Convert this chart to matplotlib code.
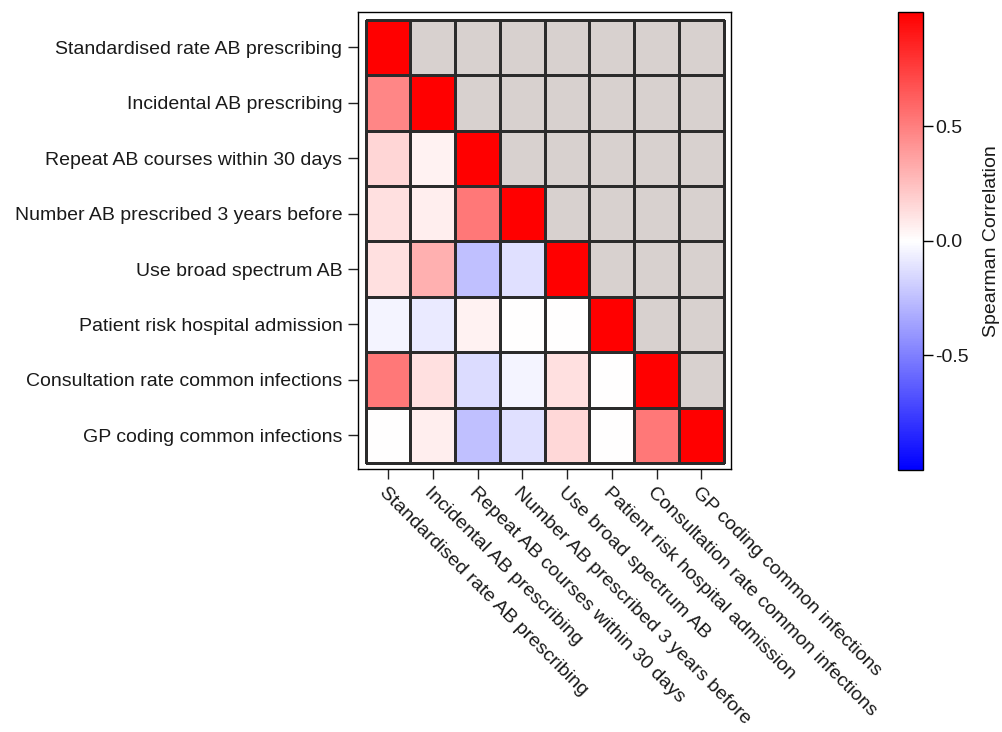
import numpy as np
import matplotlib
matplotlib.use('Agg')
import matplotlib.pyplot as plt
from matplotlib.colors import ListedColormap

plt.rcParams['font.family'] = ['Liberation Sans', 'DejaVu Sans']
plt.rcParams['axes.unicode_minus'] = False

# variable names (rows top to bottom, columns left to right)
labels = ['Standardised rate AB prescribing',
          'Incidental AB prescribing',
          'Repeat AB courses within 30 days',
          'Number AB prescribed 3 years before',
          'Use broad spectrum AB',
          'Patient risk hospital admission',
          'Consultation rate common infections',
          'GP coding common infections']

# lower triangle of the Spearman correlation matrix, row by row
row1 = [1.0]
row2 = [0.47, 1.0]
row3 = [0.16, 0.05, 1.0]
row4 = [0.12, 0.07, 0.53, 1.0]
row5 = [0.12, 0.31, -0.25, -0.12, 1.0]
row6 = [-0.04, -0.08, 0.05, 0.0, 0.0, 1.0]
row7 = [0.53, 0.12, -0.14, -0.04, 0.12, 0.0, 1.0]
row8 = [0.0, 0.07, -0.25, -0.12, 0.15, 0.0, 0.53, 1.0]
rows = [row1, row2, row3, row4, row5, row6, row7, row8]

n = len(labels)
corr = np.full((n, n), np.nan)
for i, r in enumerate(rows):
    corr[i, :len(r)] = r

upper = np.where(np.isnan(corr), 1.0, np.nan)

fs = 14
txt = '#1a1a1a'

fig = plt.figure(figsize=(10.02, 7.32), dpi=100)
ax = fig.add_axes([0.357, 0.3593, 0.3723, 0.6243])

x_edges = np.arange(n + 1) - 0.5
y_edges = np.arange(n + 1) - 0.5
mesh = ax.pcolormesh(x_edges, y_edges, corr, cmap='bwr', vmin=-1, vmax=1,
                     edgecolors='#2b2b2b', linewidth=0.9)
ax.pcolormesh(x_edges, y_edges, upper, cmap=ListedColormap(['#d8d1cf']),
              edgecolors='#2b2b2b', linewidth=0.9)

ax.set_xlim(-0.5 - 0.18, n - 0.5 + 0.16)
ax.set_ylim(n - 0.5 + 0.11, -0.5 - 0.14)

ax.set_xticks(np.arange(n))
ax.set_yticks(np.arange(n))
ax.set_yticklabels(labels, fontsize=fs, color=txt)
ax.set_xticklabels(labels, fontsize=fs, color=txt, rotation=-45,
                   ha='left', va='top', rotation_mode='anchor')
ax.tick_params(length=7, width=1, pad=4, color='#222222')
for s in ax.spines.values():
    s.set_linewidth(1.0)

cax = fig.add_axes([0.896, 0.358, 0.025, 0.6257])
cb = fig.colorbar(mesh, cax=cax)
cb.set_ticks([-0.5, 0.0, 0.5])
cb.set_ticklabels(['-0.5', '0.0', '0.5'])
cb.ax.tick_params(labelsize=fs, length=7, width=1, pad=2, labelcolor=txt)
cb.set_label('Spearman Correlation', fontsize=fs, labelpad=10, color=txt)
cb.outline.set_linewidth(1.0)

fig.savefig('out.png', dpi=100)
